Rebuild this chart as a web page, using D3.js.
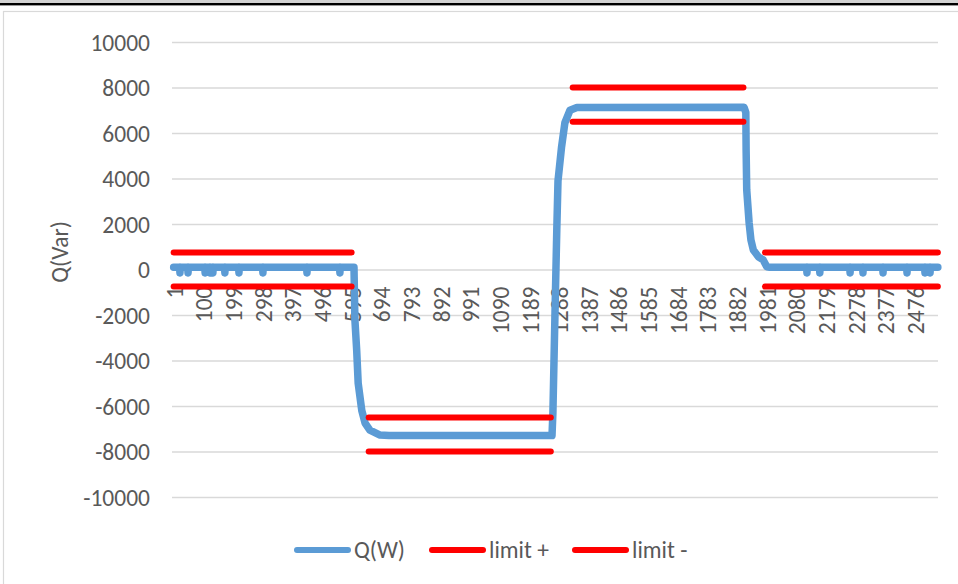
<!DOCTYPE html>
<html>
<head>
<meta charset="utf-8">
<script src="https://cdn.jsdelivr.net/npm/d3@7/dist/d3.min.js"></script>
<style>
  html, body { margin: 0; padding: 0; background: #ffffff; }
  svg { display: block; }
  text { font-family: Carlito, Calibri, Lato, "Open Sans", sans-serif; fill: #595959; }
</style>
</head>
<body>
<svg id="chart" width="958" height="584"></svg>
<script>
// ---------------- data ----------------
const categoryCount = 2552;
const xTickLabels = [1, 100, 199, 298, 397, 496, 595, 694, 793, 892, 991, 1090, 1189, 1288,
  1387, 1486, 1585, 1684, 1783, 1882, 1981, 2080, 2179, 2278, 2377, 2476];
const yTickValues = [-10000, -8000, -6000, -4000, -2000, 0, 2000, 4000, 6000, 8000, 10000];

// Q(W): [category index, value]
const qIndex = [
  1, 21, 22, 23, 48, 49, 50, 105, 106, 107, 121, 122, 123, 131, 132, 133, 171, 172, 173,
  218, 219, 220, 298, 299, 300, 445, 446, 447, 555, 556, 557,
  603, 606, 612, 617, 629, 640, 656, 690, 720,
  1264, 1267, 1274, 1280, 1284, 1296, 1307, 1324, 1347,
  1905, 1911, 1912, 1914, 1922, 1928, 1936, 1953, 1969, 1981, 1991,
  2114, 2115, 2116, 2157, 2158, 2159, 2258, 2259, 2260, 2301, 2302, 2303,
  2368, 2369, 2370, 2448, 2449, 2450, 2508, 2509, 2510, 2525, 2526, 2527, 2552
];
const qValues = [
  100, 100, -150, 100, 100, -150, 100, 100, -150, 100, 100, -150, 100, 100, -150, 100, 100, -150, 100,
  100, -150, 100, 100, -150, 100, 100, -150, 100, 100, -150, 100,
  100, -2200, -3550, -5000, -6200, -6750, -7060, -7280, -7300,
  -7300, -6300, -1900, 1750, 3900, 5400, 6450, 7000, 7120,
  7130, 6900, 5250, 3500, 2050, 1300, 860, 560, 420, 120, 100,
  100, -150, 100, 100, -150, 100, 100, -150, 100, 100, -150, 100,
  100, -150, 100, 100, -150, 100, 100, -150, 100, 100, -150, 100, 100
];

// limit series, as [start category, end category, value] segments
const limitPlus = [[1, 595, 750], [652, 1260, -6500], [1333, 1903, 8000], [1975, 2552, 750]];
const limitMinus = [[1, 595, -750], [652, 1260, -8000], [1333, 1903, 6500], [1975, 2552, -750]];

const seriesNames = ["Q(W)", "limit +", "limit -"];
const seriesColors = ["#5b9bd5", "#ff0000", "#ff0000"];
const yAxisTitle = "Q(Var)";

// ---------------- drawing ----------------
const svg = d3.select("#chart");
const W = 958, H = 584;
const FS = 23.5;
const FONT = "Carlito, Calibri, Lato, sans-serif";
const plot = { left: 173.5, right: 938, top: 42, bottom: 497 };

// page decoration: top band, black rule, chart border
svg.append("rect").attr("x", 0).attr("y", 0).attr("width", W).attr("height", 3).attr("fill", "#d4d4d4");
svg.append("rect").attr("x", 0).attr("y", 3).attr("width", W).attr("height", 2.4).attr("fill", "#000000");
svg.append("rect").attr("x", 3.5).attr("y", 11.5).attr("width", W + 20).attr("height", H + 20)
  .attr("fill", "none").attr("stroke", "#d9d9d9").attr("stroke-width", 1.2);

const x = d3.scaleLinear().domain([0.5, categoryCount + 0.5]).range([plot.left, plot.right]);
const y = d3.scaleLinear().domain([-10000, 10000]).range([plot.bottom, plot.top]);

// gridlines + y labels via axis
const yAxis = d3.axisLeft(y).tickValues(yTickValues).tickSize(-(plot.right - plot.left + 1.5))
  .tickPadding(22).tickFormat(d => String(d));
const gy = svg.append("g").attr("transform", `translate(${plot.left - 1.5},0)`).call(yAxis);
gy.select(".domain").remove();
gy.selectAll(".tick line").attr("stroke", "#d9d9d9").attr("stroke-width", 1.3);
gy.selectAll(".tick text").attr("font-size", FS).attr("fill", "#595959")
  .attr("font-family", FONT).attr("dy", "0.36em");

// y axis title
svg.append("text").attr("transform", `translate(60,252) rotate(-90)`)
  .attr("text-anchor", "middle").attr("dy", "0.36em").attr("font-size", FS).text(yAxisTitle);

// x axis labels (category axis crossing at 0)
const xAxis = d3.axisBottom(x).tickValues(xTickLabels).tickSize(0).tickPadding(0).tickFormat(d => String(d));
const gx = svg.append("g").attr("transform", `translate(0,${y(0)})`).call(xAxis);
gx.select(".domain").remove();
gx.selectAll(".tick text")
  .attr("font-size", FS).attr("fill", "#595959")
  .attr("font-family", FONT)
  .attr("text-anchor", "end")
  .attr("y", 0).attr("dy", "0.36em")
  .attr("transform", "translate(0,17) rotate(-90)");

// Q(W) line
const qData = qIndex.map((d, i) => [d, qValues[i]]);
const line = d3.line().x(d => x(d[0])).y(d => y(d[1]));
svg.append("path").datum(qData).attr("d", line)
  .attr("fill", "none").attr("stroke", seriesColors[0]).attr("stroke-width", 7.5)
  .attr("stroke-linejoin", "round").attr("stroke-linecap", "round");

// limit lines
function drawSegments(segs, color) {
  segs.forEach(s => {
    svg.append("path").datum([[s[0], s[2]], [s[1], s[2]]]).attr("d", line)
      .attr("fill", "none").attr("stroke", color).attr("stroke-width", 6)
      .attr("stroke-linecap", "round");
  });
}
drawSegments(limitPlus, seriesColors[1]);
drawSegments(limitMinus, seriesColors[2]);

// legend
const legendX = [295, 430, 573];
const legendY = 550;
seriesNames.forEach((name, i) => {
  const g = svg.append("g").attr("transform", `translate(${legendX[i]},${legendY})`);
  g.append("line").attr("x1", 2).attr("x2", 53).attr("y1", 0).attr("y2", 0)
    .attr("stroke", seriesColors[i]).attr("stroke-width", 6).attr("stroke-linecap", "round");
  g.append("text").attr("x", 59).attr("y", 0).attr("dy", "0.36em").attr("font-size", FS).text(name);
});
</script>
</body>
</html>
